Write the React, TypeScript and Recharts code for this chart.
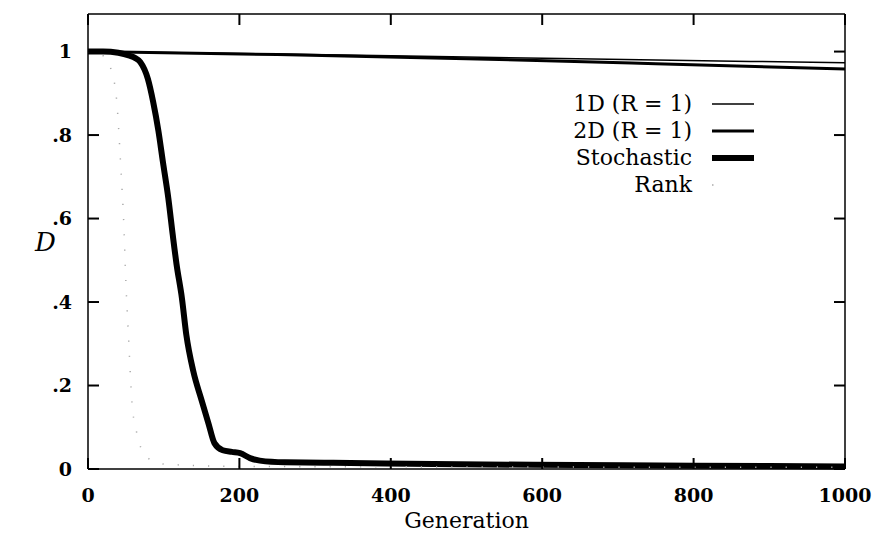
import { LineChart, Line, XAxis, YAxis, Legend } from "recharts";

// values
const xTicks = [0, 200, 400, 600, 800, 1000];
const yTicks = [0, 0.2, 0.4, 0.6, 0.8, 1];

const oneDGen = [0, 250, 500, 750, 1000];
const oneDD = [1.0, 0.994, 0.987, 0.98, 0.973];

const twoDGen = [0, 250, 500, 750, 1000];
const twoDD = [1.0, 0.993, 0.983, 0.971, 0.958];

const stochGen = [0, 20, 40, 55, 62, 69, 79, 86, 93, 99, 106, 112, 117, 124, 130, 139, 150, 159, 167, 178, 190, 201, 214, 227, 260, 324, 456, 588, 800, 1000];
const stochD = [1.0, 1.0, 0.997, 0.99, 0.985, 0.975, 0.935, 0.88, 0.81, 0.735, 0.65, 0.56, 0.49, 0.41, 0.32, 0.235, 0.165, 0.11, 0.062, 0.045, 0.041, 0.038, 0.026, 0.02, 0.016, 0.015, 0.012, 0.01, 0.008, 0.006];

const rankGen = [0, 20, 30, 38, 44, 47, 50, 54, 58, 64, 70, 80, 100, 200, 1000];
const rankD = [1.0, 0.99, 0.96, 0.88, 0.7, 0.6, 0.45, 0.3, 0.16, 0.09, 0.05, 0.025, 0.012, 0.006, 0.004];

const seriesNames = ["1D (R = 1)", "2D (R = 1)", "Stochastic", "Rank"];

const toPoints = (gen: number[], d: number[]) =>
  gen.map((g, i) => ({ gen: g, d: d[i] }));

// the 1D curve is bound to the top/right frame axes (same domains) so those axes get ticks
const series = [
  { name: seriesNames[0], data: toPoints(oneDGen, oneDD), width: 1.5, color: "#000", dash: undefined, xId: "top", yId: "right" },
  { name: seriesNames[1], data: toPoints(twoDGen, twoDD), width: 3, color: "#000", dash: undefined, xId: 0, yId: 0 },
  { name: seriesNames[2], data: toPoints(stochGen, stochD), width: 6, color: "#000", dash: undefined, xId: 0, yId: 0 },
  { name: seriesNames[3], data: toPoints(rankGen, rankD), width: 1.5, color: "#aaa", dash: "1.2 14", xId: 0, yId: 0 },
];

const X_DOMAIN: [number, number] = [0, 1000];
const Y_DOMAIN: [number, number] = [0, 1.09];

const FONT = "'DejaVu Serif', 'Liberation Serif', serif";
const TICK = 11;
const stroke = { stroke: "#000", strokeWidth: 1.5 };
const tickStroke = { stroke: "#000", strokeWidth: 2 };
const labelStyle = { fill: "#000", fontSize: 19, fontWeight: "bold" as const, fontFamily: FONT };

const fmtY = (v: number) => (v === 0 ? "0" : v === 1 ? "1" : String(v).replace(/^0/, ""));

// inward tick marks drawn next to the outside labels
const BottomTick = (p: any) => (
  <g>
    <line x1={p.x} x2={p.x} y1={p.y - 18} y2={p.y - 18 - TICK} {...tickStroke} />
    <text x={p.x} y={p.y} dy="0.78em" textAnchor="middle" {...labelStyle}>
      {p.payload.value}
    </text>
  </g>
);

const LeftTick = (p: any) => (
  <g>
    <line x1={p.x + 16} x2={p.x + 16 + TICK} y1={p.y} y2={p.y} {...tickStroke} />
    <text x={p.x} y={p.y} dy="0.36em" textAnchor="end" {...labelStyle}>
      {fmtY(p.payload.value)}
    </text>
  </g>
);

const TopTick = (p: any) => (
  <line x1={p.x} x2={p.x} y1={p.y} y2={p.y + TICK} {...tickStroke} />
);

const RightTick = (p: any) => (
  <line x1={p.x} x2={p.x - TICK} y1={p.y} y2={p.y} {...tickStroke} />
);

const LegendBox = () => (
  <svg width={210} height={110}>
    {series.map((s, i) => {
      const y = 13 + i * 27;
      return (
        <g key={s.name}>
          <text
            x={144}
            y={y}
            textAnchor="end"
            dominantBaseline="central"
            fontFamily={FONT}
            fontSize={22}
            fill="#000"
          >
            {s.name}
          </text>
          <line
            x1={164}
            x2={206}
            y1={y + 1}
            y2={y + 1}
            stroke={s.color}
            strokeWidth={s.width}
            strokeDasharray={s.dash ? "1.5 42" : undefined}
          />
        </g>
      );
    })}
  </svg>
);

export default function App() {
  return (
    <div style={{ position: "absolute", left: 0, top: 0, width: 873, height: 539, background: "#fff" }}>
      <LineChart
        width={873}
        height={539}
        margin={{ top: 14, right: 28, bottom: 0, left: 0 }}
        style={{ fontFamily: FONT }}
      >
        <XAxis
          dataKey="gen"
          type="number"
          domain={X_DOMAIN}
          ticks={xTicks}
          height={70}
          tickSize={0}
          tickMargin={18}
          tickLine={false}
          axisLine={stroke}
          tick={BottomTick}
          label={{
            value: "Generation",
            position: "insideBottom",
            offset: 11,
            style: { fill: "#000", fontSize: 22, fontFamily: FONT },
          }}
        />
        <XAxis
          xAxisId="top"
          orientation="top"
          dataKey="gen"
          type="number"
          domain={X_DOMAIN}
          ticks={xTicks}
          mirror
          height={12}
          tickSize={0}
          tickMargin={0}
          tickLine={false}
          axisLine={stroke}
          tick={TopTick}
        />
        <YAxis
          type="number"
          domain={Y_DOMAIN}
          ticks={yTicks}
          width={88}
          tickSize={0}
          tickMargin={16}
          tickLine={false}
          axisLine={stroke}
          tick={LeftTick}
          label={{
            value: "D",
            position: "insideLeft",
            offset: 35,
            style: { fill: "#000", fontSize: 26, fontStyle: "italic", fontFamily: FONT },
          }}
        />
        <YAxis
          yAxisId="right"
          orientation="right"
          type="number"
          domain={Y_DOMAIN}
          ticks={yTicks}
          mirror
          width={12}
          tickSize={0}
          tickMargin={0}
          tickLine={false}
          axisLine={stroke}
          tick={RightTick}
        />
        {series.map((s) => (
          <Line
            key={s.name}
            data={s.data}
            dataKey="d"
            name={s.name}
            xAxisId={s.xId}
            yAxisId={s.yId}
            type="monotone"
            stroke={s.color}
            strokeWidth={s.width}
            strokeDasharray={s.dash}
            dot={false}
            activeDot={false}
            isAnimationActive={false}
          />
        ))}
        <Legend
          layout="horizontal"
          verticalAlign="middle"
          align="center"
          wrapperStyle={{ position: "absolute", left: 548, top: 90, width: 210, height: 110 }}
          content={() => <LegendBox />}
        />
      </LineChart>
    </div>
  );
}
